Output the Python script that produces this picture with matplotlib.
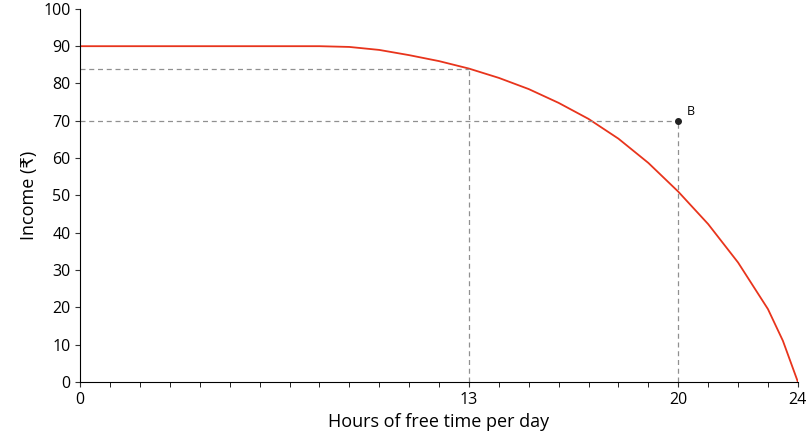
import matplotlib
matplotlib.use('Agg')
import matplotlib.pyplot as plt
from matplotlib.ticker import MultipleLocator

plt.rcParams['font.family'] = ['Open Sans', 'DejaVu Sans']

hours = [0, 4, 8, 9, 10, 11, 12, 13, 14, 15, 16, 17, 18, 19, 20, 21, 22, 23, 23.5, 24]
income = [90, 90, 90, 89.8, 89, 87.6, 86, 84, 81.5, 78.5, 74.8, 70.5, 65.2, 58.7, 51, 42.3, 32, 19.5, 11, 0]
point_a = (13, 84)
point_b = (20, 70)
xticks = [0, 13, 20, 24]

fig, ax = plt.subplots(figsize=(8.1, 4.45), dpi=100)
fig.subplots_adjust(left=0.099, right=0.985, bottom=0.142, top=0.98)

ax.plot(hours, income, color='#e8341c', lw=1.3)
for px, py in [point_a, point_b]:
    ax.plot([0, px], [py, py], ls='--', color='#909090', lw=0.9, dashes=(4, 3))
    ax.plot([px, px], [0, py], ls='--', color='#909090', lw=0.9, dashes=(4, 3))
ax.plot(*point_b, 'o', color='#222222', ms=4)
ax.annotate('B', point_b, xytext=(6, 4), textcoords='offset points', fontsize=9)

ax.set_xlim(0, 24)
ax.set_ylim(0, 100)
ax.set_xticks(xticks)
ax.xaxis.set_minor_locator(MultipleLocator(1))
ax.set_yticks(range(0, 101, 10))
ax.tick_params(labelsize=11.5, color='#333333')
ax.tick_params(which='minor', length=3.5)
for s in ['top', 'right']:
    ax.spines[s].set_visible(False)
ax.set_xlabel('Hours of free time per day', fontsize=13)
ax.set_ylabel('Income (₹)', fontsize=13)

fig.savefig('out.png')
